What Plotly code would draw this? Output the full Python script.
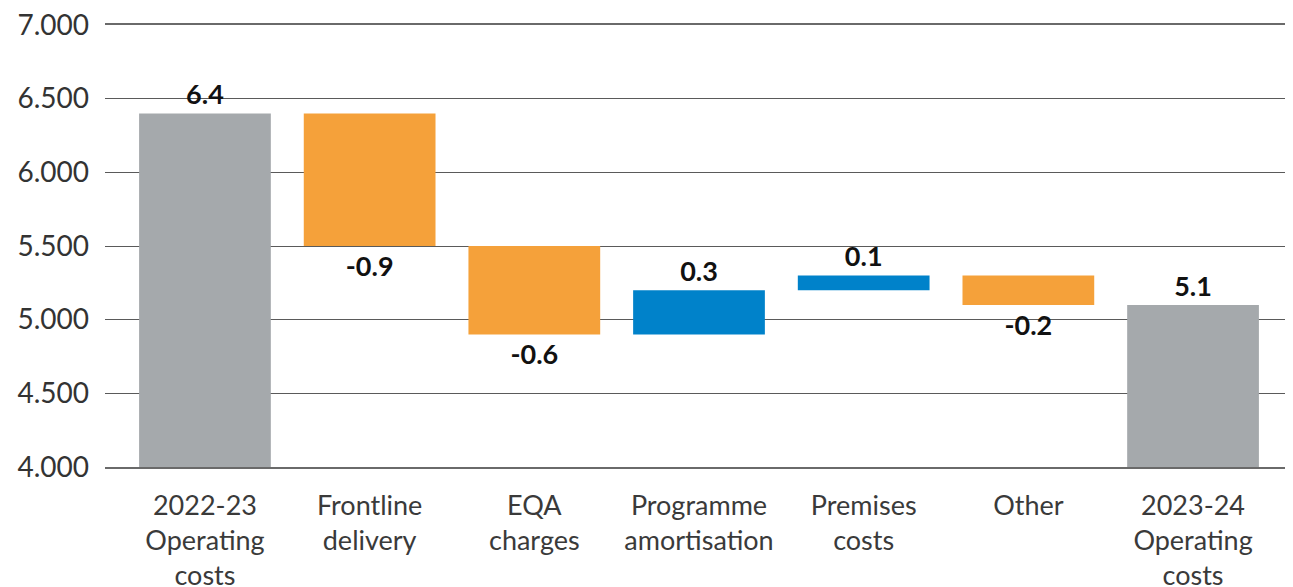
import plotly.graph_objects as go

categories = ["2022-23<br>Operating<br>costs", "Frontline<br>delivery", "EQA<br>charges",
              "Programme<br>amortisation", "Premises<br>costs", "Other",
              "2023-24<br>Operating<br>costs"]
changes = [6.4, -0.9, -0.6, 0.3, 0.1, -0.2, 0]
measures = ["absolute", "relative", "relative", "relative", "relative", "relative", "total"]
labels = ["6.4", "-0.9", "-0.6", "0.3", "0.1", "-0.2", "5.1"]
y_ticks = [4.0, 4.5, 5.0, 5.5, 6.0, 6.5, 7.0]

fig = go.Figure(go.Waterfall(
    x=categories,
    y=changes,
    measure=measures,
    text=labels,
    textposition="outside",
    textfont=dict(family="Lato", size=27, color="#111111", weight="bold"),
    increasing=dict(marker=dict(color="#0082CA")),
    decreasing=dict(marker=dict(color="#F5A13A")),
    totals=dict(marker=dict(color="#A5A9AC")),
    connector=dict(visible=False),
    cliponaxis=False,
))

# page body adds an 8px margin, so the figure is 8px smaller on each axis
fig.update_layout(
    width=1285, height=579,
    margin=dict(l=97, r=0, t=17, b=120),
    plot_bgcolor="white", paper_bgcolor="white",
    bargap=0.2,
    showlegend=False,
    font=dict(family="Lato", color="#333333"),
)
fig.update_xaxes(
    range=[-0.607, 6.607],
    tickfont=dict(size=27, color="#3a3a3a"),
    ticklabelstandoff=14,
    ticklabeloverflow="allow",
    showline=True, linecolor="#6a6a6a", linewidth=1.5, mirror=True,
    showgrid=False, automargin=False,
)
fig.update_yaxes(
    range=[4, 7],
    tickvals=y_ticks,
    tickformat=".3f",
    tickfont=dict(size=28, color="#333333"),
    ticklabelstandoff=15,
    ticklabeloverflow="allow",
    showgrid=True, gridcolor="#5a5a5a", gridwidth=1,
    zeroline=False, automargin=False,
)

fig.write_html("out.html")
